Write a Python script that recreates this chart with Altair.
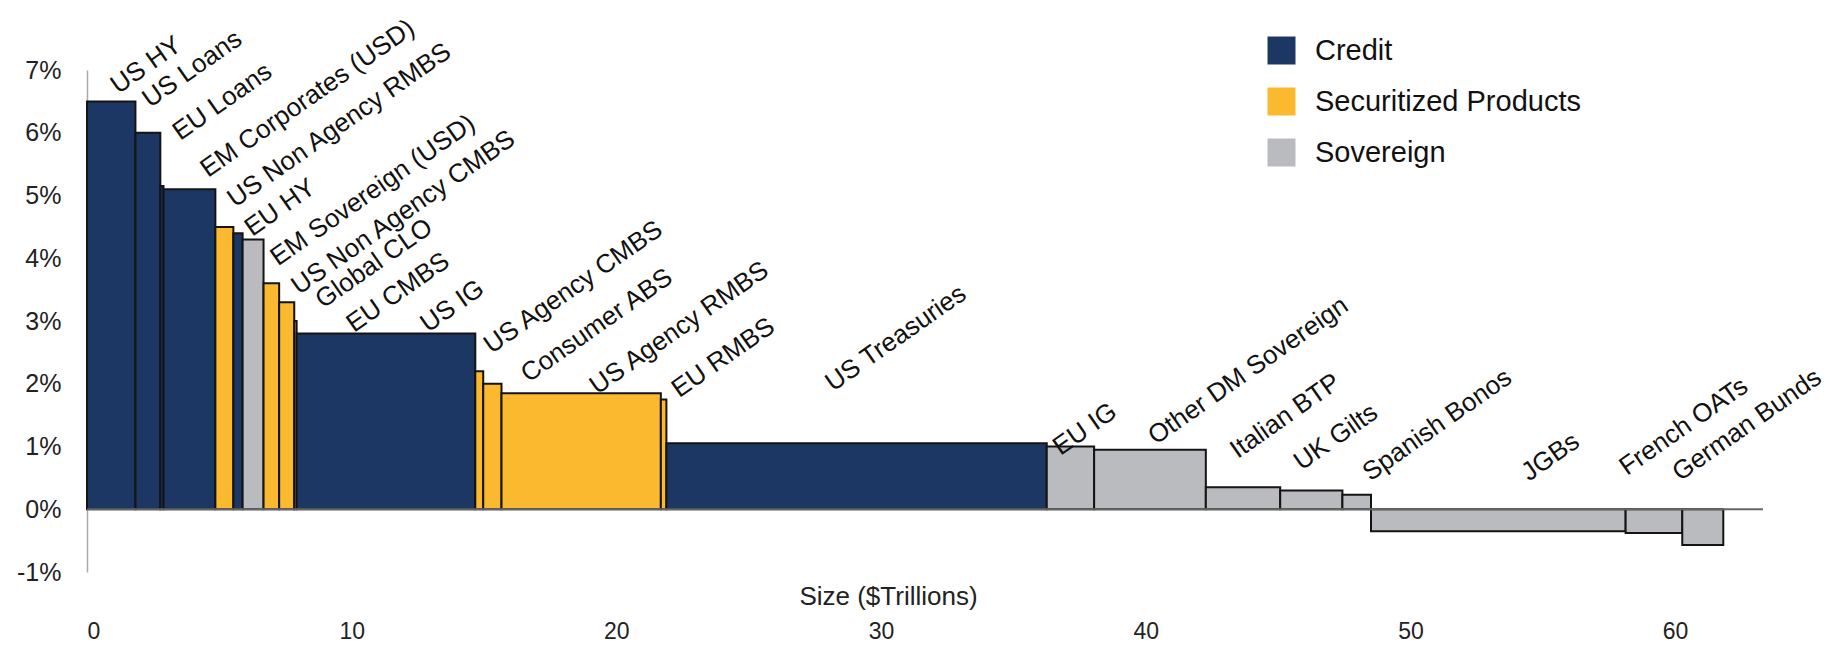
import altair as alt
import pandas as pd

# ---- data ----
names = ["US HY", "US Loans", "EU Loans", "EM Corporates (USD)", "US Non Agency RMBS",
         "EU HY", "EM Sovereign (USD)", "US Non Agency CMBS", "Global CLO", "EU CMBS",
         "US IG", "US Agency CMBS", "Consumer ABS", "US Agency RMBS", "EU RMBS",
         "US Treasuries", "EU IG", "Other DM Sovereign", "Italian BTP", "UK Gilts",
         "Spanish Bonos", "JGBs", "French OATs", "German Bunds"]
sizes = [1.83, 0.94, 0.12, 1.96, 0.68, 0.35, 0.79, 0.59, 0.57, 0.09,
         6.75, 0.30, 0.69, 6.02, 0.21, 14.37, 1.79, 4.22, 2.81, 2.35,
         1.08, 9.62, 2.14, 1.55]
yields = [6.5, 6.0, 5.15, 5.1, 4.5, 4.4, 4.3, 3.6, 3.3, 3.0,
          2.8, 2.2, 2.0, 1.85, 1.75, 1.05, 1.0, 0.95, 0.35, 0.3,
          0.23, -0.35, -0.38, -0.57]
sectors = ["Credit", "Credit", "Credit", "Credit", "Securitized Products",
           "Credit", "Sovereign", "Securitized Products", "Securitized Products", "Securitized Products",
           "Credit", "Securitized Products", "Securitized Products", "Securitized Products", "Securitized Products",
           "Credit", "Sovereign", "Sovereign", "Sovereign", "Sovereign",
           "Sovereign", "Sovereign", "Sovereign", "Sovereign"]
# annotation anchors (data units: $T, %) where each name label starts
label_x = [1.18, 2.38, 3.52, 4.57, 5.59, 6.24, 7.22, 8.01, 8.92, 10.09,
           12.88, 15.28, 16.68, 19.28, 22.38, 28.18, 36.78, 40.38, 43.48, 45.88,
           48.48, 54.48, 58.18, 60.18]
label_y = [6.61, 6.39, 5.87, 5.28, 4.80, 4.34, 3.87, 3.41, 3.19, 2.81,
           2.81, 2.47, 2.01, 1.82, 1.77, 1.87, 0.85, 1.02, 0.80, 0.61,
           0.44, 0.44, 0.53, 0.44]
x_ticks = [0, 10, 20, 30, 40, 50, 60]
y_ticks = [-1, 0, 1, 2, 3, 4, 5, 6, 7]
sector_order = ["Credit", "Securitized Products", "Sovereign"]
sector_colors = ["#1c3764", "#fbb930", "#b9bbbe"]

starts, ends = [], []
acc = 0.0
for s in sizes:
    starts.append(acc)
    acc += s
    ends.append(acc)

df = pd.DataFrame({"name": names, "x0": starts, "x1": ends, "value": yields,
                   "zero": [0.0] * len(names), "sector": sectors,
                   "lx": label_x, "ly": label_y})

W, H = 1676, 502
XMAX = 63.32
FONT = "Liberation Sans"

xs = alt.Scale(domain=[0, XMAX], nice=False, zero=False)
ys = alt.Scale(domain=[-1, 7], nice=False)

bars = alt.Chart(df).mark_rect(stroke="#141414", strokeWidth=2).encode(
    x=alt.X("x0:Q", scale=xs,
            axis=alt.Axis(values=x_ticks, title="Size ($Trillions)", domain=False, ticks=False,
                          grid=False, labelPadding=48, labelFontSize=23, labelFont=FONT,
                          labelColor="#222", titleFont=FONT, titleFontSize=26, titleFontWeight="normal",
                          titleColor="#222", titleY=24, titleX=801, titleBaseline="middle")),
    x2="x1:Q",
    y=alt.Y("zero:Q", scale=ys,
            axis=alt.Axis(values=y_ticks, title=None, grid=False, ticks=False,
                          domainColor="#aaaaaa", domainWidth=1.5,
                          labelExpr="datum.value + '%'", labelPadding=26,
                          labelFontSize=25, labelFont=FONT, labelColor="#222")),
    y2="value:Q",
    color=alt.Color("sector:N", scale=alt.Scale(domain=sector_order, range=sector_colors),
                    legend=alt.Legend(title=None, orient="none", legendX=1180, legendY=-34,
                                      symbolType="square", symbolSize=784, symbolStrokeWidth=0,
                                      symbolOpacity=1, labelFont=FONT, labelFontSize=29,
                                      labelColor="#111", rowPadding=21, labelOffset=19,
                                      labelLimit=600, padding=0)),
)

baseline = alt.Chart(pd.DataFrame({"y": [0.0]})).mark_rule(color="#666666", strokeWidth=2).encode(
    y=alt.Y("y:Q", scale=ys), x=alt.value(0), x2=alt.value(W)
)

labels = alt.Chart(df).mark_text(angle=325, align="left", baseline="alphabetic",
                                 font=FONT, fontSize=26, color="#111111").encode(
    x=alt.X("lx:Q", scale=xs), y=alt.Y("ly:Q", scale=ys), text="name:N"
)

chart = alt.layer(bars, baseline, labels).properties(
    width=W, height=H,
    autosize=alt.AutoSizeParams(type="none"),
    padding={"left": 87, "top": 70, "right": 70, "bottom": 87},
).configure(background="white").configure_view(strokeWidth=0, stroke="transparent")

chart.save("out.html", embed_options={"renderer": "svg", "actions": False})
